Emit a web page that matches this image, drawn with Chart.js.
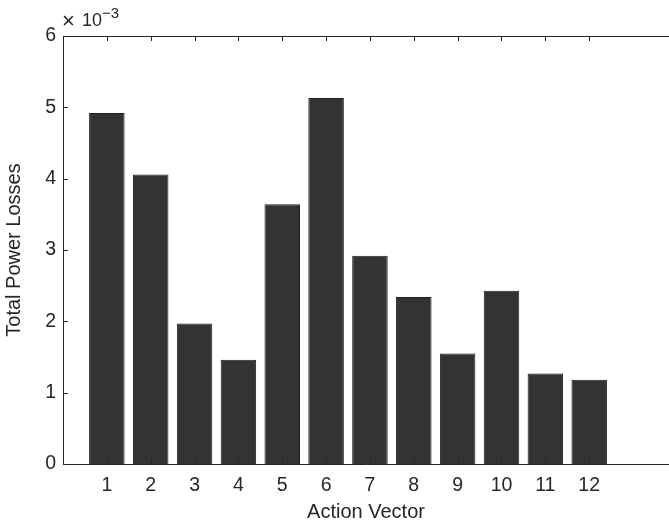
<!DOCTYPE html>
<html lang="en">
<head>
  <meta charset="UTF-8">
  <title>Total Power Losses</title>
  <script src="https://cdn.jsdelivr.net/npm/chart.js"></script>
  <style>
    html, body { margin: 0; padding: 0; background: #fff; }
    #lossChart { display: block; }
  </style>
</head>
<body>
  <canvas id="lossChart" width="669" height="524"></canvas>
  <script>
    // action vector index on the x axis
    const actionVectors = [1, 2, 3, 4, 5, 6, 7, 8, 9, 10, 11, 12];
    // total power losses, in units of 10^-3
    const powerLosses = [4.92, 4.06, 1.97, 1.46, 3.64, 5.13, 2.92, 2.34, 1.55, 2.43, 1.27, 1.18];
    const yTicks = [0, 1, 2, 3, 4, 5, 6];
    const exponent = '−3';

    const axisColor = '#262626';
    const font = "'Liberation Sans', Arial, Helvetica, sans-serif";

    // MATLAB style: box line on top, inward tick marks, exponent label
    const matlabAxes = {
      id: 'matlabAxes',
      afterDraw(chart) {
        const ctx = chart.ctx;
        const area = chart.chartArea;
        const xs = chart.scales.x;
        const ys = chart.scales.y;
        const len = 5;
        ctx.save();
        ctx.strokeStyle = axisColor;
        ctx.lineWidth = 1;
        ctx.beginPath();
        ctx.moveTo(area.left, area.top + 0.5);
        ctx.lineTo(area.right, area.top + 0.5);
        xs.ticks.forEach(t => {
          const px = Math.round(xs.getPixelForValue(t.value)) + 0.5;
          ctx.moveTo(px, area.bottom);
          ctx.lineTo(px, area.bottom - len);
          ctx.moveTo(px, area.top);
          ctx.lineTo(px, area.top + len);
        });
        ys.ticks.forEach(t => {
          const py = Math.round(ys.getPixelForValue(t.value)) + 0.5;
          ctx.moveTo(area.left, py);
          ctx.lineTo(area.left + len, py);
        });
        ctx.stroke();

        // x10^-3 multiplier
        ctx.fillStyle = axisColor;
        ctx.textBaseline = 'alphabetic';
        ctx.textAlign = 'left';
        ctx.font = '22px ' + font;
        ctx.fillText('×', area.left - 1, 28);
        ctx.font = '18px ' + font;
        ctx.fillText('10', area.left + 19, 26);
        ctx.font = '15px ' + font;
        ctx.fillText(exponent, area.left + 39, 18);
        ctx.restore();
      }
    };

    new Chart(document.getElementById('lossChart'), {
      type: 'bar',
      data: {
        datasets: [{
          data: actionVectors.map((v, i) => ({ x: v, y: powerLosses[i] })),
          backgroundColor: '#333333',
          borderColor: '#1f1f1f',
          borderWidth: 1,
          barPercentage: 0.81,
          categoryPercentage: 1
        }]
      },
      options: {
        responsive: false,
        animation: false,
        layout: { padding: { top: 36, right: 0, left: 0, bottom: 0 } },
        plugins: {
          legend: { display: false },
          tooltip: { enabled: false }
        },
        scales: {
          x: {
            type: 'linear',
            offset: false,
            min: 0,
            max: 13.82,
            grid: { display: false, drawTicks: false, offset: false },
            border: { display: true, color: axisColor, width: 1 },
            afterBuildTicks: scale => {
              scale.ticks = actionVectors.map(v => ({ value: v }));
            },
            afterFit: scale => { scale.height = 60; },
            ticks: {
              color: axisColor,
              padding: 10,
              maxRotation: 0,
              autoSkip: false,
              font: { family: font, size: 19.5 },
              callback: v => String(v)
            },
            title: {
              display: true,
              text: 'Action Vector',
              color: axisColor,
              padding: { top: 0, bottom: 0 },
              font: { family: font, size: 20 }
            }
          },
          y: {
            min: 0,
            max: 6,
            grid: { display: false, drawTicks: false },
            border: { display: true, color: axisColor, width: 1 },
            afterBuildTicks: scale => {
              scale.ticks = yTicks.map(v => ({ value: v }));
            },
            afterFit: scale => { scale.width = 63; },
            ticks: {
              color: axisColor,
              padding: 7,
              font: { family: font, size: 19.5 },
              callback: v => String(v)
            },
            title: {
              display: true,
              text: 'Total Power Losses',
              color: axisColor,
              padding: { top: 2, bottom: 0 },
              font: { family: font, size: 20 }
            }
          }
        }
      },
      plugins: [matlabAxes]
    });
  </script>
</body>
</html>
